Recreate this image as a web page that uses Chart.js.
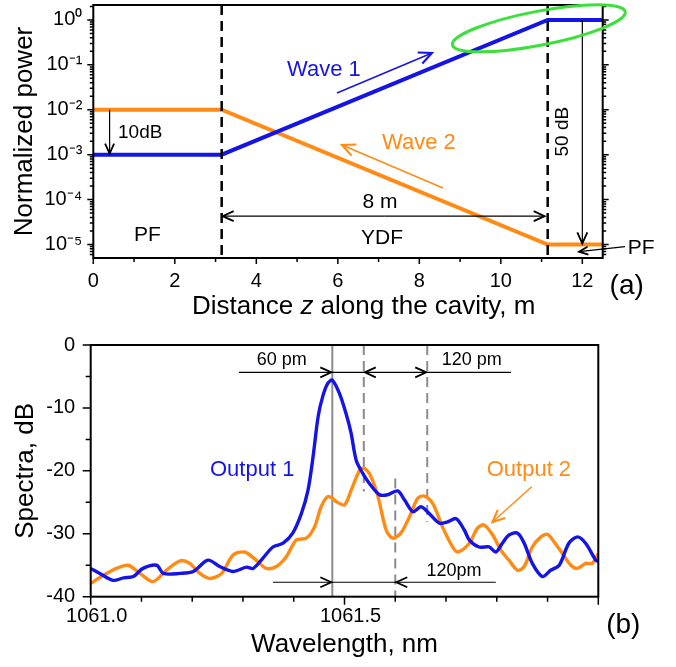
<!DOCTYPE html>
<html><head><meta charset="utf-8">
<script src="https://cdn.jsdelivr.net/npm/chart.js@4"></script>
<style>
html,body{margin:0;padding:0;background:#fff;}
#wrap{position:relative;width:676px;height:667px;background:#fff;}
canvas{position:absolute;left:0;}
#c1{top:0px;} #c2{top:330px;}
</style></head><body>
<div id="wrap"><canvas id="c1" width="676" height="330"></canvas><canvas id="c2" width="676" height="337"></canvas></div>
<script>
const FONT = '"Liberation Sans", Arial, Helvetica, sans-serif';
// ---------- Panel (a) data ----------
const distance = [0, 3.15, 11.15, 12.5];
const wave1Power = [1e-3, 1e-3, 1, 1];
const wave2Power = [1e-2, 1e-2, 1e-5, 1e-5];
const distanceTicks = [0, 2, 4, 6, 8, 10, 12];
const powerTicks = [1e-5, 1e-4, 1e-3, 1e-2, 1e-1, 1];
// ---------- Panel (b) data ----------
const out1Wavelength = [1061.000,1061.018,1061.044,1061.065,1061.084,1061.103,1061.130,1061.143,1061.176,1061.202,1061.231,1061.254,1061.280,1061.307,1061.320,1061.339,1061.359,1061.379,1061.398,1061.415,1061.428,1061.438,1061.448,1061.457,1061.467,1061.476,1061.490,1061.503,1061.513,1061.523,1061.536,1061.549,1061.569,1061.585,1061.605,1061.618,1061.635,1061.651,1061.667,1061.687,1061.703,1061.720,1061.736,1061.746,1061.765,1061.785,1061.798,1061.811,1061.824,1061.841,1061.854,1061.870,1061.890,1061.906,1061.923,1061.942,1061.959,1061.975,1061.995,1062.000];
const out1Spectrum = [-35.5,-36.3,-37.4,-37.0,-36.8,-35.5,-35.0,-36.3,-36.3,-36.0,-34.2,-35.2,-36.0,-35.3,-35.5,-33.9,-32.1,-31.5,-29.9,-26.8,-23.1,-17.8,-11.4,-8.2,-6.1,-5.6,-7.7,-10.9,-14.0,-18.3,-20.4,-22.0,-23.8,-23.8,-23.2,-24.6,-26.5,-25.7,-26.8,-28.3,-28.1,-27.6,-29.4,-31.0,-32.1,-32.1,-32.9,-31.5,-30.2,-29.9,-31.5,-34.7,-36.8,-35.8,-35.0,-31.5,-30.5,-31.5,-34.2,-34.4];
const out2Wavelength = [1061.000,1061.025,1061.051,1061.074,1061.097,1061.123,1061.149,1061.176,1061.195,1061.215,1061.235,1061.258,1061.280,1061.303,1061.326,1061.346,1061.366,1061.385,1061.405,1061.425,1061.441,1061.454,1061.467,1061.477,1061.484,1061.500,1061.513,1061.530,1061.539,1061.552,1061.566,1061.582,1061.595,1061.611,1061.628,1061.644,1061.657,1061.674,1061.693,1061.713,1061.723,1061.746,1061.762,1061.775,1061.792,1061.808,1061.824,1061.841,1061.854,1061.870,1061.887,1061.900,1061.913,1061.929,1061.946,1061.959,1061.975,1061.988,1062.000];
const out2Spectrum = [-37.9,-36.6,-35.5,-35.0,-36.3,-37.6,-35.8,-34.3,-34.7,-36.3,-37.1,-36.3,-33.4,-32.9,-34.2,-35.5,-35.2,-33.7,-31.0,-30.7,-28.9,-25.7,-24.1,-24.4,-24.9,-25.4,-23.1,-19.9,-19.6,-20.9,-24.1,-29.4,-30.7,-29.9,-27.3,-24.4,-24.0,-25.2,-28.9,-32.1,-32.9,-31.5,-29.1,-28.6,-30.2,-32.6,-34.2,-35.8,-35.2,-32.1,-30.5,-30.1,-31.3,-33.1,-35.0,-35.5,-34.7,-34.7,-33.1];
const wavelengthTicks = [1061.0, 1061.5];
const spectrumTicks = [0, -10, -20, -30, -40];

const BLUE = '#1414e6', ORANGE = '#ff8a14', GREEN = '#3be03b', GRAY = '#8c8c8c';
Chart.defaults.font.family = FONT;
Chart.defaults.color = '#000';

const SUP = {'0':'\u2070','1':'\u00b9','2':'\u00b2','3':'\u00b3','4':'\u2074','5':'\u2075','6':'\u2076','7':'\u2077','8':'\u2078','9':'\u2079','-':'\u207b'};
function powLabel(v){ const e = Math.round(Math.log10(v)); return '10' + String(e).split('').map(c=>SUP[c]).join(''); }

function head(ctx, x1, y1, x2, y2, len, hw){
  const a = Math.atan2(y2-y1, x2-x1);
  const bx = x2 - len*Math.cos(a), by = y2 - len*Math.sin(a);
  const nx = -Math.sin(a)*hw, ny = Math.cos(a)*hw;
  ctx.beginPath(); ctx.moveTo(bx+nx, by+ny); ctx.lineTo(x2, y2); ctx.lineTo(bx-nx, by-ny); ctx.stroke();
}
function arrow(ctx, x1, y1, x2, y2, color, lw, len, hw){
  ctx.save(); ctx.strokeStyle = color; ctx.lineWidth = lw; ctx.lineCap='butt';
  ctx.beginPath(); ctx.moveTo(x1,y1); ctx.lineTo(x2,y2); ctx.stroke();
  ctx.lineWidth = lw + 0.6; head(ctx, x1, y1, x2, y2, len, hw);
  ctx.restore();
}
function text(ctx, s, x, y, size, color, align, rot){
  ctx.save(); ctx.font = size + 'px ' + FONT; ctx.fillStyle = color || '#000';
  ctx.textAlign = align || 'center'; ctx.textBaseline = 'middle';
  if (rot){ ctx.translate(x,y); ctx.rotate(rot); ctx.fillText(s,0,0); } else ctx.fillText(s, x, y);
  ctx.restore();
}
function drawFrameTicks(chart, o){
  const ctx = chart.ctx, a = chart.chartArea, sx = chart.scales.x, sy = chart.scales.y;
  ctx.save(); ctx.strokeStyle = '#000'; ctx.lineWidth = 1.5;
  ctx.beginPath();
  o.xMajor.forEach(v=>{const p=sx.getPixelForValue(v); ctx.moveTo(p,a.bottom); ctx.lineTo(p,a.bottom+o.xMajLen);});
  o.xMinor.forEach(v=>{const p=sx.getPixelForValue(v); ctx.moveTo(p,a.bottom); ctx.lineTo(p,a.bottom+o.xMinLen);});
  o.yMajor.forEach(v=>{const p=sy.getPixelForValue(v); ctx.moveTo(a.left,p); ctx.lineTo(a.left-o.yMajLen,p);
    if(o.right){ctx.moveTo(a.right,p); ctx.lineTo(a.right+o.yMajLen,p);} });
  o.yMinor.forEach(v=>{const p=sy.getPixelForValue(v); ctx.moveTo(a.left,p); ctx.lineTo(a.left-o.yMinLen,p);
    if(o.right){ctx.moveTo(a.right,p); ctx.lineTo(a.right+o.yMinLen,p);} });
  ctx.stroke();
  ctx.lineWidth = 2; ctx.strokeRect(a.left, a.top, a.right-a.left, a.bottom-a.top);
  ctx.restore();
}

// ---------------- Chart (a) ----------------
const logMinor = [];
for (let e=-6; e<=0; e++) for (let m=2; m<=9; m++){ const v=m*Math.pow(10,e); if (v>5e-6 && v<2.15) logMinor.push(v); }
const oddMinor = [1,3,5,7,9,11];

const plugA = {
  id: 'plugA',
  afterDatasetsDraw(chart){
    const ctx = chart.ctx, a = chart.chartArea, sx = chart.scales.x, sy = chart.scales.y;
    const X = v=>sx.getPixelForValue(v), Y = v=>sy.getPixelForValue(v);
    ctx.save(); ctx.strokeStyle='#000'; ctx.lineWidth=2.5; ctx.setLineDash([10,6]);
    [3.15, 11.15].forEach(v=>{ ctx.beginPath(); ctx.moveTo(X(v), a.top); ctx.lineTo(X(v), a.bottom); ctx.stroke(); });
    ctx.restore();
    drawFrameTicks(chart, {xMajor: distanceTicks, xMinor: oddMinor, xMajLen:6, xMinLen:4,
      yMajor: powerTicks, yMinor: logMinor, yMajLen:6, yMinLen:3.5, right:true});
    arrow(ctx, X(0.4), Y(1e-2), X(0.4), Y(1e-3)-1, '#000', 1.2, 10, 4.5);
    text(ctx, '10dB', 118, 133, 19, '#000', 'left');
    const y8 = Y(4.27e-5);
    arrow(ctx, X(7.15), y8, X(3.15)+1, y8, '#000', 1.2, 11, 5);
    arrow(ctx, X(7.15), y8, X(11.15)-3, y8, '#000', 1.2, 11, 5);
    text(ctx, '8 m', 380, 202, 21);
    text(ctx, 'YDF', 382, 238, 21);
    text(ctx, 'PF', 147.5, 235, 21);
    arrow(ctx, X(12.0), Y(1), X(12.0), Y(1e-5)-1, '#000', 1.2, 11, 5);
    text(ctx, '50 dB', 562.3, 131.7, 19, '#000', 'center', -Math.PI/2);
    arrow(ctx, 625, 246.7, 579, 251.7, '#000', 1.2, 9, 4);
    text(ctx, 'PF', 627.7, 248.3, 21, '#000', 'left');
    text(ctx, 'Wave 1', 287, 70, 22, BLUE, 'left');
    arrow(ctx, 337, 93, 432, 53, BLUE, 1.5, 13, 6);
    text(ctx, 'Wave 2', 382, 143, 22, ORANGE, 'left');
    arrow(ctx, 443, 188, 342, 145, ORANGE, 1.5, 13, 6);
    ctx.save(); ctx.strokeStyle = GREEN; ctx.lineWidth = 3;
    ctx.beginPath(); ctx.ellipse(538.8, 28.3, 88, 17, -10.9*Math.PI/180, 0, 2*Math.PI); ctx.stroke(); ctx.restore();
    text(ctx, '(a)', 626.7, 286.7, 28);
    ctx.save(); ctx.fillStyle='#000'; ctx.textBaseline='alphabetic'; ctx.textAlign='left';
    let x0 = 192; const yb = 314;
    ctx.font = '26px ' + FONT; ctx.fillText('Distance ', x0, yb); x0 += ctx.measureText('Distance ').width;
    ctx.font = 'italic 26px ' + FONT; ctx.fillText('z', x0, yb); x0 += ctx.measureText('z').width;
    ctx.font = '26px ' + FONT; ctx.fillText(' along the cavity, m', x0, yb);
    ctx.restore();
  }
};

new Chart(document.getElementById('c1'), {
  type: 'line',
  data: { datasets: [
    { label: 'Wave 1', data: distance.map((d,i)=>({x:d, y:wave1Power[i]})), borderColor: BLUE, borderWidth: 4, pointRadius: 0, tension: 0 },
    { label: 'Wave 2', data: distance.map((d,i)=>({x:d, y:wave2Power[i]})), borderColor: ORANGE, borderWidth: 4, pointRadius: 0, tension: 0 }
  ]},
  options: {
    responsive: false, animation: false, devicePixelRatio: 1,
    layout: { padding: { top: 5, right: 73.3, bottom: 0, left: 0 } },
    plugins: { legend: { display: false }, tooltip: { enabled: false } },
    scales: {
      x: { type: 'linear', min: 0, max: 12.5,
        grid: { display: false, drawTicks: false }, border: { display: false },
        ticks: { padding: 11, font: { size: 20 }, autoSkip: false, maxRotation: 0, callback: v => String(v) },
        afterBuildTicks: s => { s.ticks = distanceTicks.map(v=>({value:v})); },
        afterFit: s => { s.height = 72; s.paddingLeft = 0; s.paddingRight = 0; } },
      y: { type: 'logarithmic', min: 5e-6, max: 2.15,
        grid: { display: false, drawTicks: false }, border: { display: false },
        ticks: { padding: 11, font: { size: 20 }, autoSkip: false, callback: v => powLabel(v) },
        afterBuildTicks: s => { s.ticks = powerTicks.map(v=>({value:v})); },
        title: { display: true, text: 'Normalized power', font: { size: 26 }, padding: { top: 9.4, bottom: 0 } },
        afterFit: s => { s.width = 93.3; s.paddingTop = 0; s.paddingBottom = 0; } }
    }
  },
  plugins: [plugA]
});

// ---------------- Chart (b) ----------------
const wlMinor = [1061.1,1061.2,1061.3,1061.4,1061.6,1061.7,1061.8,1061.9];
const dbMinor = [-5,-15,-25,-35];
const plugB = {
  id: 'plugB',
  beforeDatasetsDraw(chart){
    const ctx = chart.ctx, a = chart.chartArea, sx = chart.scales.x, sy = chart.scales.y;
    const X = v=>sx.getPixelForValue(v), Y = v=>sy.getPixelForValue(v);
    ctx.save(); ctx.strokeStyle = GRAY; ctx.lineWidth = 2;
    ctx.beginPath(); ctx.moveTo(X(1061.476), a.top); ctx.lineTo(X(1061.476), a.bottom); ctx.stroke();
    ctx.setLineDash([10,6]);
    [[1061.538, 0, -23.3],[1061.663, 0, -28.1],[1061.600, -21.2, -40]].forEach(l=>{
      ctx.beginPath(); ctx.moveTo(X(l[0]), Y(l[1])); ctx.lineTo(X(l[0]), Y(l[2])); ctx.stroke(); });
    ctx.restore();
  },
  afterDatasetsDraw(chart){
    const ctx = chart.ctx, sx = chart.scales.x, sy = chart.scales.y;
    const X = v=>sx.getPixelForValue(v), Y = v=>sy.getPixelForValue(v);
    drawFrameTicks(chart, {xMajor: [1061.0, 1061.5, 1062.0], xMinor: wlMinor, xMajLen:8, xMinLen:5,
      yMajor: spectrumTicks, yMinor: dbMinor, yMajLen:8, yMinLen:5, right:false});
    const yu = Y(-4.35);
    ctx.save(); ctx.strokeStyle='#000'; ctx.lineWidth=1.2;
    ctx.beginPath(); ctx.moveTo(X(1061.292), yu); ctx.lineTo(X(1061.828), yu); ctx.stroke();
    ctx.lineWidth=1.8;
    head(ctx, X(1061.3), yu, X(1061.476)-1, yu, 11, 5);
    head(ctx, X(1061.6), yu, X(1061.538)+1, yu, 11, 5);
    head(ctx, X(1061.6), yu, X(1061.663)-1, yu, 11, 5);
    const yl = Y(-37.7);
    ctx.lineWidth=1.2;
    ctx.beginPath(); ctx.moveTo(X(1061.359), yl); ctx.lineTo(X(1061.798), yl); ctx.stroke();
    ctx.lineWidth=1.8;
    head(ctx, X(1061.36), yl, X(1061.476)-1, yl, 11, 5);
    head(ctx, X(1061.7), yl, X(1061.600)+1, yl, 11, 5);
    ctx.restore();
    text(ctx, '60 pm', 281.7, 30, 18);
    text(ctx, '120 pm', 471.7, 30, 18);
    text(ctx, '120pm', 454, 240.7, 18);
    text(ctx, 'Output 1', 210, 140, 22, BLUE, 'left');
    text(ctx, 'Output 2', 486.7, 140, 22, ORANGE, 'left');
    arrow(ctx, 531.7, 156.7, 492.5, 192, ORANGE, 1.5, 12, 5.5);
    text(ctx, '(b)', 623.3, 295, 28);
  }
};

new Chart(document.getElementById('c2'), {
  type: 'line',
  data: { datasets: [
    { label: 'Output 1', data: out1Wavelength.map((w,i)=>({x:w, y:out1Spectrum[i]})), borderColor: BLUE, borderWidth: 3.4, pointRadius: 0, tension: 0.3 },
    { label: 'Output 2', data: out2Wavelength.map((w,i)=>({x:w, y:out2Spectrum[i]})), borderColor: ORANGE, borderWidth: 3.4, pointRadius: 0, tension: 0.3 }
  ]},
  options: {
    responsive: false, animation: false, devicePixelRatio: 1,
    layout: { padding: { top: 15, right: 77.7, bottom: 0, left: 0 } },
    plugins: { legend: { display: false }, tooltip: { enabled: false } },
    scales: {
      x: { type: 'linear', min: 1061.0, max: 1062.0,
        grid: { display: false, drawTicks: false }, border: { display: false },
        ticks: { padding: 8, labelOffset: 6, font: { size: 20 }, autoSkip: false, maxRotation: 0, callback: v => Number(v).toFixed(1) },
        afterBuildTicks: s => { s.ticks = wavelengthTicks.map(v=>({value:v})); },
        title: { display: true, text: 'Wavelength, nm', font: { size: 26 }, padding: { top: 0, bottom: 6.4 } },
        afterFit: s => { s.height = 70.3; s.paddingLeft = 0; s.paddingRight = 0; } },
      y: { type: 'linear', min: -40, max: 0,
        grid: { display: false, drawTicks: false }, border: { display: false },
        ticks: { padding: 15.5, font: { size: 20 }, autoSkip: false, callback: v => String(v) },
        afterBuildTicks: s => { s.ticks = spectrumTicks.map(v=>({value:v})); },
        title: { display: true, text: 'Spectra, dB', font: { size: 26 }, padding: { top: 10.4, bottom: 0 } },
        afterFit: s => { s.width = 90.7; s.paddingTop = 0; s.paddingBottom = 0; } }
    }
  },
  plugins: [plugB]
});
</script>
</body></html>
